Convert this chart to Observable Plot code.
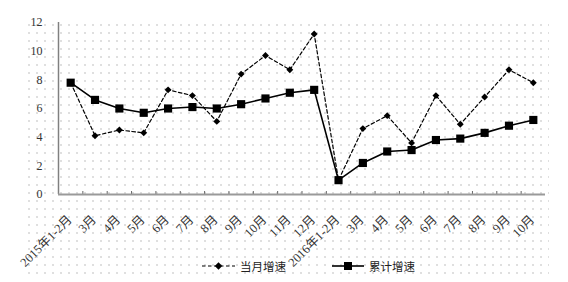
<!DOCTYPE html>
<html>
<head>
<meta charset="utf-8">
<script src="https://cdn.jsdelivr.net/npm/d3@7"></script>
<script src="https://cdn.jsdelivr.net/npm/@observablehq/plot@0.6"></script>
<style>
  html, body { margin: 0; padding: 0; background: white; }
  #wrap { position: relative; width: 568px; height: 282px; overflow: hidden; background: white; }
  #dots { position: absolute; left: 25px; top: 21px; width: 524px; height: 254px;
    background-image: radial-gradient(circle, #c8c8c8 0.6px, rgba(255,255,255,0) 0.85px);
    background-size: 8px 8px; background-position: 0 0; }
  #chart { position: absolute; left: 0; top: 0; }
  #legend { position: absolute; left: 0; top: 256px; width: 568px; height: 20px;
    font-family: "Noto Sans CJK SC", sans-serif; font-size: 11.5px; color: #222; }
  .item { position: absolute; top: 0; display: flex; align-items: center; height: 20px; }
  .item svg { display: block; margin-right: 5px; }
</style>
</head>
<body>
<div id="wrap">
  <div id="dots"></div>
  <div id="chart"></div>
  <div id="legend"></div>
</div>
<script>
const categories = ["2015年1-2月","3月","4月","5月","6月","7月","8月","9月","10月","11月","12月",
                    "2016年1-2月","3月","4月","5月","6月","7月","8月","9月","10月"];
const monthly = [7.8, 4.1, 4.5, 4.3, 7.3, 6.9, 5.1, 8.4, 9.7, 8.7, 11.2,
                 1.0, 4.6, 5.5, 3.6, 6.9, 4.9, 6.8, 8.7, 7.8];
const cumulative = [7.8, 6.6, 6.0, 5.7, 6.0, 6.1, 6.0, 6.3, 6.7, 7.1, 7.3,
                    1.0, 2.2, 3.0, 3.1, 3.8, 3.9, 4.3, 4.8, 5.2];
const yTicks = [0, 2, 4, 6, 8, 10, 12];
const seriesNames = ["当月增速", "累计增速"];

const n = categories.length;
const centers = d3.range(n).map(i => i + 0.5);
const boundaries = d3.range(1, n);
const mData = monthly.map((v, i) => ({x: i + 0.5, y: v}));
const cData = cumulative.map((v, i) => ({x: i + 0.5, y: v}));

const font = '"Liberation Serif", "Noto Sans CJK SC", serif';

const plot = Plot.plot({
  width: 568,
  height: 282,
  marginLeft: 58,
  marginRight: 23,
  marginTop: 22,
  marginBottom: 88,
  style: {background: "transparent", fontFamily: font, fontSize: "12px", color: "#333"},
  x: {type: "linear", domain: [0, n], label: null},
  y: {domain: [0, 12], label: null},
  marks: [
    Plot.axisY({ticks: yTicks, tickSize: 0, tickPadding: 16, fontSize: 12, fill: "#333", label: null}),
    Plot.axisX({ticks: centers, tickSize: 0, tickPadding: 23, tickRotate: -45, label: null,
                tickFormat: d => categories[Math.floor(d)], fontSize: 12.5, fill: "#333", dx: -1}),
    Plot.axisX({ticks: boundaries, tickSize: -3, text: null, stroke: "#666", label: null}),
    Plot.ruleX([0], {stroke: "#808080", strokeWidth: 1.5}),
    Plot.ruleY([0], {stroke: "#9a9a9a", strokeWidth: 2}),
    Plot.line(mData, {x: "x", y: "y", stroke: "black", strokeWidth: 1.2, strokeDasharray: "3.5,2.5"}),
    Plot.dot(mData, {x: "x", y: "y", symbol: "diamond2", r: 3.1, fill: "black", stroke: "none"}),
    Plot.line(cData, {x: "x", y: "y", stroke: "black", strokeWidth: 1.6}),
    Plot.dot(cData, {x: "x", y: "y", symbol: "square", r: 4.6, fill: "black", stroke: "none"})
  ]
});
document.getElementById("chart").appendChild(plot);

// legend
const legend = document.getElementById("legend");
function addItem(left, w, name, dashed, square) {
  const div = document.createElement("div");
  div.className = "item";
  div.style.left = left + "px";
  const ns = "http://www.w3.org/2000/svg";
  const s = document.createElementNS(ns, "svg");
  s.setAttribute("width", w); s.setAttribute("height", 14);
  const l = document.createElementNS(ns, "line");
  l.setAttribute("x1", 0); l.setAttribute("x2", w); l.setAttribute("y1", 7); l.setAttribute("y2", 7);
  l.setAttribute("stroke", "black"); l.setAttribute("stroke-width", dashed ? 1.2 : 1.6);
  if (dashed) l.setAttribute("stroke-dasharray", "3.5,2.5");
  s.appendChild(l);
  const c = w / 2;
  let m;
  if (square) {
    m = document.createElementNS(ns, "rect");
    m.setAttribute("x", c - 4); m.setAttribute("y", 3); m.setAttribute("width", 8); m.setAttribute("height", 8);
  } else {
    m = document.createElementNS(ns, "path");
    m.setAttribute("d", `M${c},3.3L${c + 3.7},7L${c},10.7L${c - 3.7},7Z`);
  }
  m.setAttribute("fill", "black");
  s.appendChild(m);
  div.appendChild(s);
  const t = document.createElement("span");
  t.textContent = name;
  div.appendChild(t);
  legend.appendChild(div);
}
addItem(202, 33, seriesNames[0], true, false);
addItem(332, 32, seriesNames[1], false, true);
</script>
</body>
</html>
